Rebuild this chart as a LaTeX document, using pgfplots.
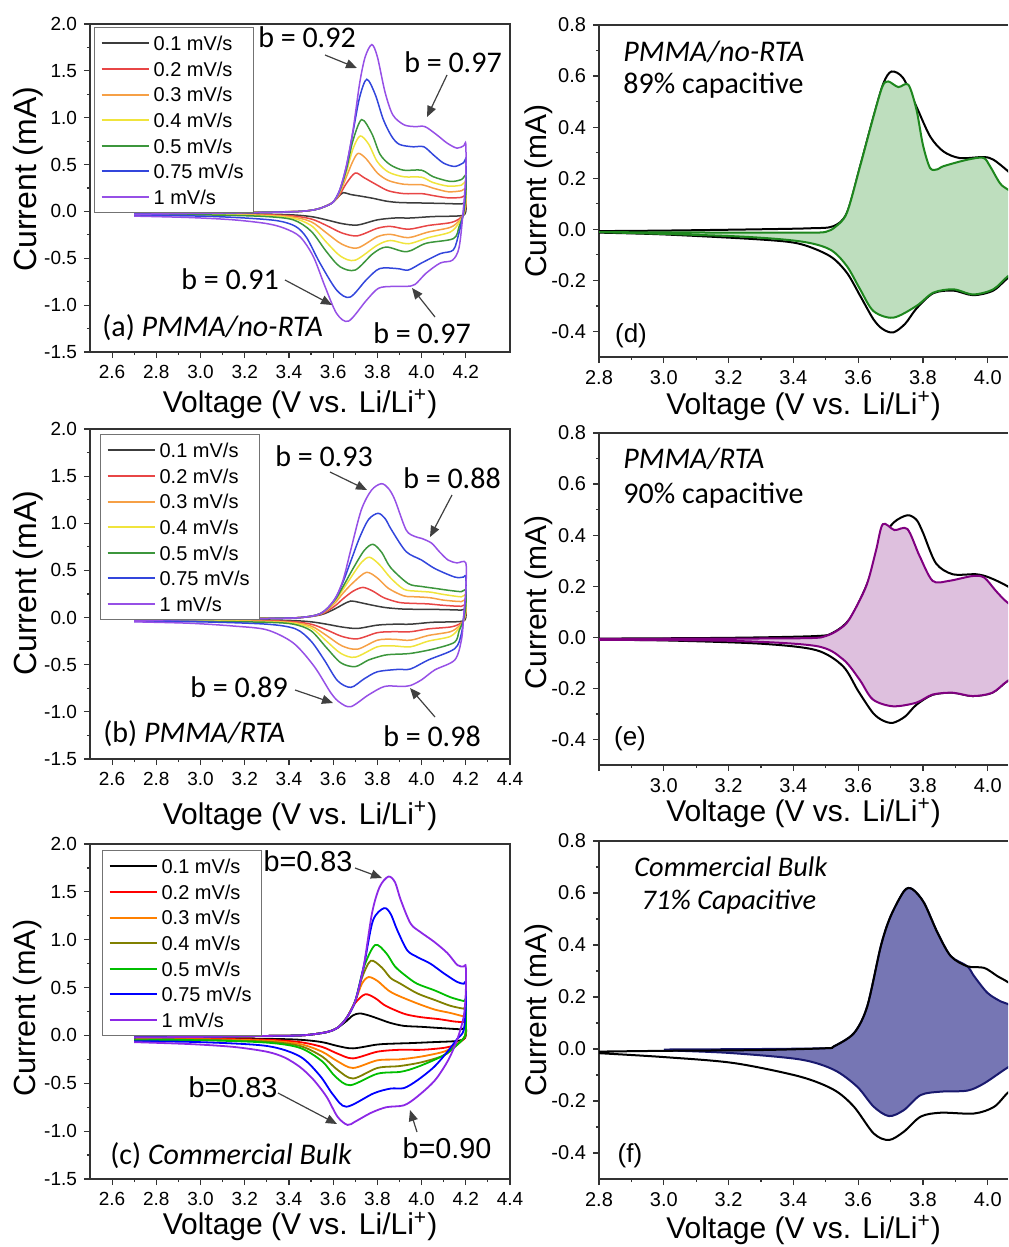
\documentclass[border=0pt]{standalone}
\usepackage{fontspec}
\setmainfont{Liberation Sans}
\newfontfamily\carlito{Carlito}
\usepackage{pgfplots}
\pgfplotsset{compat=1.18}
\usetikzlibrary{arrows.meta}

\definecolor{ca0}{RGB}{60,60,60}
\definecolor{ca1}{RGB}{232,70,70}
\definecolor{ca2}{RGB}{246,160,70}
\definecolor{ca3}{RGB}{240,228,60}
\definecolor{ca4}{RGB}{60,150,60}
\definecolor{ca5}{RGB}{50,70,220}
\definecolor{ca6}{RGB}{150,80,230}
\definecolor{cc0}{RGB}{0,0,0}
\definecolor{cc1}{RGB}{255,0,0}
\definecolor{cc2}{RGB}{255,128,0}
\definecolor{cc3}{RGB}{128,128,0}
\definecolor{cc4}{RGB}{0,190,0}
\definecolor{cc5}{RGB}{0,0,255}
\definecolor{cc6}{RGB}{140,40,230}
\definecolor{dgreen}{RGB}{30,135,30}
\definecolor{lgreen}{RGB}{190,222,190}
\definecolor{dpurple}{RGB}{128,0,128}
\definecolor{lpurple}{RGB}{222,192,222}
\definecolor{dnavy}{RGB}{25,25,110}
\definecolor{lnavy}{RGB}{118,118,180}

\pgfplotsset{
  cvbase/.style={
    scale only axis, anchor=south west,
    tick align=outside, tick pos=left,
    major tick length=3pt, minor tick length=1.6pt,
    minor x tick num=1, minor y tick num=1,
    axis line style={line width=0.7pt, black!80},
    every tick/.style={line width=0.6pt, black!80},
    ticklabel style={/pgf/number format/assume math mode=true},
    xticklabel style={/pgf/number format/.cd,fixed,fixed zerofill,precision=1},
    yticklabel style={/pgf/number format/.cd,fixed,fixed zerofill,precision=1},
    xlabel={Voltage (V vs. Li/Li\textsuperscript{+})},
    ylabel={Current (mA)},
    xlabel style={anchor=center, font=\fontsize{15}{17}\selectfont},
    ylabel style={anchor=center, font=\fontsize{16}{18}\selectfont},
  },
  cvleft/.style={cvbase, width=210pt, xmin=2.5, xmax=4.4, ymin=-1.5, ymax=2.0,
    ytick={-1.5,-1,-0.5,0,0.5,1,1.5,2},
    tick label style={font=\fontsize{9.5}{11}\selectfont},
    legend style={at={(rel axis cs:0,1)}, anchor=north west, xshift=2pt, yshift=-1.5pt,
      draw=black!55, line width=0.6pt, font=\fontsize{10}{12}\selectfont,
      inner xsep=3pt, inner ysep=1.5pt, row sep=0pt,
      nodes={inner ysep=2.75pt, text height=7.3pt, text depth=0pt}},
    legend cell align=left,
    legend image code/.code={\draw[##1, line width=1pt] (0pt,0pt) -- (23.5pt,0pt);},
  },
  cvright/.style={cvbase, width=204.5pt, xmin=2.8, xmax=4.0625, ymin=-0.5, ymax=0.8,
    ytick={-0.4,-0.2,0,0.2,0.4,0.6,0.8}, xtick={2.8,3.0,3.2,3.4,3.6,3.8,4.0},
    axis x line*=box, axis y line*=left, tick pos=left,
    ylabel style={font=\fontsize{15}{17}\selectfont},
    tick label style={font=\fontsize{10}{12}\selectfont},
  },
}

\begin{document}
\begin{tikzpicture}
\useasboundingbox (0,0) rectangle (504pt,-623.5pt);
\clip (0,0) rectangle (504pt,-623.5pt);

% ---------------- (a) ----------------
\begin{axis}[cvleft, at={(45pt,-176pt)}, height=164pt,
  xtick={2.6,2.8,3.0,3.2,3.4,3.6,3.8,4.0,4.2},
  xlabel style={at={(axis description cs:0.5,-0.159)}},
  ylabel style={at={(axis description cs:-0.148,0.527)}}]
\addplot[ca0, line width=0.75pt, smooth, tension=0.5] coordinates {(2.7,-0.015) (3.0,-0.01) (3.3,-0.005) (3.45,0.0) (3.52,0.02) (3.56,0.05) (3.6,0.10) (3.625,0.16) (3.646,0.20) (3.68,0.18) (3.72,0.165) (3.78,0.14) (3.84,0.11) (3.9,0.095) (4.0,0.09) (4.1,0.085) (4.18,0.08) (4.2,0.09) (4.2,0.0) (4.19,-0.04) (4.15,-0.05) (4.05,-0.055) (3.95,-0.07) (3.88,-0.07) (3.8,-0.09) (3.71,-0.145) (3.64,-0.13) (3.57,-0.09) (3.5,-0.055) (3.4,-0.035) (3.2,-0.025) (2.95,-0.02) (2.7,-0.02)};
\addplot[ca1, line width=0.75pt, smooth, tension=0.5] coordinates {(2.7,-0.02) (3.0,-0.012) (3.3,-0.006) (3.45,0.0) (3.52,0.02) (3.56,0.05) (3.6,0.10) (3.63,0.18) (3.66,0.30) (3.70,0.41) (3.74,0.36) (3.80,0.28) (3.85,0.22) (3.92,0.19) (4.0,0.19) (4.05,0.17) (4.12,0.145) (4.18,0.15) (4.2,0.17) (4.2,0.05) (4.19,-0.03) (4.17,-0.08) (4.13,-0.12) (4.03,-0.15) (3.94,-0.19) (3.86,-0.16) (3.80,-0.18) (3.71,-0.26) (3.64,-0.23) (3.57,-0.15) (3.5,-0.08) (3.4,-0.045) (3.2,-0.03) (2.95,-0.025) (2.7,-0.025)};
\addplot[ca2, line width=0.75pt, smooth, tension=0.5] coordinates {(2.7,-0.02) (3.0,-0.013) (3.3,-0.007) (3.45,0.0) (3.52,0.02) (3.56,0.05) (3.6,0.10) (3.63,0.20) (3.66,0.37) (3.69,0.54) (3.714,0.62) (3.75,0.56) (3.80,0.41) (3.85,0.33) (3.92,0.29) (4.0,0.285) (4.05,0.25) (4.12,0.21) (4.18,0.22) (4.2,0.24) (4.2,0.08) (4.19,-0.03) (4.17,-0.1) (4.13,-0.17) (4.03,-0.22) (3.94,-0.28) (3.86,-0.245) (3.80,-0.27) (3.71,-0.39) (3.64,-0.35) (3.57,-0.23) (3.5,-0.11) (3.4,-0.055) (3.2,-0.035) (2.95,-0.03) (2.7,-0.03)};
\addplot[ca3, line width=0.75pt, smooth, tension=0.5] coordinates {(2.7,-0.02) (3.0,-0.014) (3.3,-0.008) (3.45,0.0) (3.52,0.02) (3.56,0.05) (3.6,0.10) (3.63,0.21) (3.66,0.42) (3.69,0.67) (3.722,0.805) (3.76,0.72) (3.80,0.53) (3.85,0.42) (3.92,0.37) (4.0,0.365) (4.05,0.31) (4.12,0.27) (4.18,0.28) (4.2,0.31) (4.2,0.12) (4.19,-0.03) (4.17,-0.12) (4.13,-0.22) (4.03,-0.28) (3.94,-0.345) (3.86,-0.31) (3.80,-0.36) (3.70,-0.52) (3.635,-0.48) (3.57,-0.33) (3.5,-0.15) (3.4,-0.065) (3.2,-0.04) (2.95,-0.033) (2.7,-0.03)};
\addplot[ca4, line width=0.75pt, smooth, tension=0.5] coordinates {(2.7,-0.02) (3.0,-0.015) (3.3,-0.008) (3.45,0.0) (3.52,0.02) (3.56,0.05) (3.6,0.10) (3.63,0.22) (3.66,0.45) (3.69,0.76) (3.729,0.98) (3.775,0.83) (3.812,0.61) (3.857,0.50) (3.918,0.44) (4.0,0.44) (4.053,0.37) (4.13,0.32) (4.18,0.34) (4.2,0.38) (4.2,0.18) (4.19,-0.02) (4.17,-0.16) (4.144,-0.29) (4.02,-0.34) (3.933,-0.43) (3.84,-0.38) (3.78,-0.45) (3.70,-0.625) (3.631,-0.59) (3.57,-0.43) (3.5,-0.21) (3.42,-0.09) (3.3,-0.055) (3.1,-0.04) (2.9,-0.035) (2.7,-0.035)};
\addplot[ca5, line width=0.75pt, smooth, tension=0.5] coordinates {(2.7,-0.025) (3.0,-0.018) (3.3,-0.01) (3.45,0.0) (3.52,0.02) (3.56,0.05) (3.6,0.10) (3.63,0.23) (3.66,0.48) (3.69,0.85) (3.72,1.22) (3.752,1.41) (3.79,1.25) (3.827,0.98) (3.865,0.80) (3.90,0.715) (3.96,0.69) (4.01,0.69) (4.055,0.60) (4.10,0.515) (4.15,0.48) (4.19,0.52) (4.2,0.55) (4.2,0.3) (4.19,0.0) (4.17,-0.22) (4.144,-0.41) (4.085,-0.45) (4.0,-0.55) (3.94,-0.625) (3.89,-0.61) (3.81,-0.61) (3.75,-0.73) (3.676,-0.915) (3.616,-0.84) (3.54,-0.55) (3.48,-0.28) (3.43,-0.16) (3.35,-0.10) (3.2,-0.07) (3.0,-0.05) (2.7,-0.04)};
\addplot[ca6, line width=0.75pt, smooth, tension=0.5] coordinates {(2.7,-0.03) (3.0,-0.02) (3.3,-0.01) (3.45,0.0) (3.52,0.02) (3.56,0.05) (3.6,0.10) (3.63,0.23) (3.66,0.49) (3.69,0.87) (3.72,1.37) (3.745,1.65) (3.775,1.78) (3.80,1.65) (3.835,1.27) (3.87,1.03) (3.92,0.925) (3.97,0.905) (4.015,0.905) (4.07,0.815) (4.115,0.73) (4.16,0.675) (4.19,0.70) (4.2,0.72) (4.2,0.40) (4.19,0.05) (4.17,-0.38) (4.14,-0.52) (4.085,-0.55) (4.02,-0.66) (3.97,-0.78) (3.93,-0.80) (3.87,-0.80) (3.805,-0.82) (3.75,-0.95) (3.67,-1.17) (3.616,-1.09) (3.563,-0.80) (3.51,-0.48) (3.45,-0.27) (3.38,-0.18) (3.3,-0.13) (3.15,-0.09) (2.95,-0.065) (2.7,-0.05)};
\legend{0.1 mV/s, 0.2 mV/s, 0.3 mV/s, 0.4 mV/s, 0.5 mV/s, 0.75 mV/s, 1 mV/s}
\end{axis}

% ---------------- (b) ----------------
\begin{axis}[cvleft, at={(45pt,-379.5pt)}, height=165pt,
  xtick={2.6,2.8,3.0,3.2,3.4,3.6,3.8,4.0,4.2,4.4},
  legend style={xshift=3pt, yshift=-1pt},
  xlabel style={at={(axis description cs:0.5,-0.173)}},
  ylabel style={at={(axis description cs:-0.148,0.533)}}]
\addplot[ca0, line width=0.75pt, smooth, tension=0.5] coordinates {(2.7,-0.015) (3.0,-0.01) (3.3,-0.005) (3.45,0.0) (3.545,0.03) (3.606,0.09) (3.645,0.14) (3.68,0.176) (3.72,0.16) (3.78,0.13) (3.84,0.105) (3.92,0.09) (4.0,0.088) (4.1,0.085) (4.18,0.08) (4.2,0.09) (4.2,0.0) (4.19,-0.035) (4.15,-0.045) (4.05,-0.05) (3.95,-0.07) (3.88,-0.07) (3.8,-0.08) (3.71,-0.115) (3.64,-0.10) (3.57,-0.07) (3.5,-0.045) (3.4,-0.03) (3.2,-0.022) (2.95,-0.02) (2.7,-0.02)};
\addplot[ca1, line width=0.75pt, smooth, tension=0.5] coordinates {(2.7,-0.02) (3.0,-0.012) (3.3,-0.006) (3.45,0.0) (3.545,0.035) (3.606,0.12) (3.645,0.20) (3.69,0.28) (3.735,0.32) (3.78,0.28) (3.83,0.21) (3.9,0.16) (3.97,0.15) (4.03,0.145) (4.1,0.13) (4.18,0.12) (4.2,0.14) (4.2,0.04) (4.19,-0.03) (4.17,-0.07) (4.13,-0.10) (4.03,-0.12) (3.95,-0.15) (3.87,-0.15) (3.80,-0.16) (3.71,-0.225) (3.64,-0.20) (3.57,-0.13) (3.5,-0.07) (3.4,-0.04) (3.2,-0.03) (2.95,-0.025) (2.7,-0.025)};
\addplot[ca2, line width=0.75pt, smooth, tension=0.5] coordinates {(2.7,-0.02) (3.0,-0.013) (3.3,-0.007) (3.45,0.0) (3.545,0.04) (3.606,0.15) (3.645,0.26) (3.69,0.37) (3.75,0.48) (3.80,0.42) (3.85,0.31) (3.92,0.23) (3.98,0.22) (4.04,0.21) (4.1,0.185) (4.18,0.17) (4.2,0.19) (4.2,0.06) (4.19,-0.03) (4.17,-0.09) (4.13,-0.15) (4.03,-0.19) (3.95,-0.24) (3.87,-0.23) (3.80,-0.24) (3.71,-0.335) (3.64,-0.30) (3.57,-0.19) (3.5,-0.09) (3.4,-0.05) (3.2,-0.035) (2.95,-0.03) (2.7,-0.03)};
\addplot[ca3, line width=0.75pt, smooth, tension=0.5] coordinates {(2.7,-0.02) (3.0,-0.014) (3.3,-0.008) (3.45,0.0) (3.545,0.045) (3.606,0.17) (3.645,0.30) (3.69,0.46) (3.73,0.59) (3.765,0.64) (3.81,0.56) (3.86,0.42) (3.92,0.30) (3.98,0.28) (4.04,0.27) (4.1,0.245) (4.18,0.22) (4.2,0.24) (4.2,0.08) (4.19,-0.03) (4.17,-0.11) (4.13,-0.20) (4.03,-0.25) (3.95,-0.31) (3.87,-0.30) (3.80,-0.31) (3.70,-0.42) (3.635,-0.38) (3.57,-0.25) (3.5,-0.11) (3.4,-0.055) (3.2,-0.04) (2.95,-0.033) (2.7,-0.03)};
\addplot[ca4, line width=0.75pt, smooth, tension=0.5] coordinates {(2.7,-0.02) (3.0,-0.015) (3.3,-0.008) (3.45,0.0) (3.545,0.045) (3.606,0.18) (3.645,0.33) (3.69,0.52) (3.74,0.71) (3.78,0.777) (3.82,0.69) (3.86,0.53) (3.94,0.36) (4.0,0.33) (4.06,0.31) (4.12,0.29) (4.18,0.275) (4.2,0.29) (4.2,0.12) (4.19,-0.02) (4.17,-0.14) (4.15,-0.26) (4.06,-0.33) (3.95,-0.38) (3.87,-0.39) (3.83,-0.40) (3.76,-0.45) (3.70,-0.52) (3.635,-0.48) (3.57,-0.32) (3.5,-0.14) (3.42,-0.07) (3.3,-0.05) (3.0,-0.04) (2.7,-0.035)};
\addplot[ca5, line width=0.75pt, smooth, tension=0.5] coordinates {(2.7,-0.025) (3.0,-0.018) (3.3,-0.01) (3.45,0.0) (3.545,0.045) (3.606,0.19) (3.645,0.38) (3.68,0.60) (3.72,0.85) (3.76,1.04) (3.803,1.106) (3.835,1.05) (3.864,0.93) (3.93,0.70) (4.0,0.61) (4.06,0.52) (4.15,0.43) (4.19,0.43) (4.2,0.44) (4.2,0.25) (4.19,0.0) (4.18,-0.17) (4.15,-0.33) (4.03,-0.45) (3.95,-0.545) (3.89,-0.55) (3.80,-0.575) (3.74,-0.65) (3.68,-0.74) (3.62,-0.67) (3.56,-0.45) (3.5,-0.25) (3.43,-0.12) (3.3,-0.07) (3.0,-0.045) (2.7,-0.04)};
\addplot[ca6, line width=0.75pt, smooth, tension=0.5] coordinates {(2.7,-0.03) (3.0,-0.02) (3.3,-0.01) (3.45,0.0) (3.545,0.045) (3.606,0.19) (3.645,0.40) (3.68,0.72) (3.727,1.14) (3.773,1.35) (3.818,1.42) (3.85,1.37) (3.879,1.25) (3.93,0.93) (3.97,0.86) (4.0,0.84) (4.045,0.79) (4.08,0.70) (4.12,0.61) (4.16,0.58) (4.2,0.58) (4.2,0.3) (4.19,0.0) (4.18,-0.24) (4.15,-0.45) (4.06,-0.555) (4.0,-0.66) (3.95,-0.72) (3.909,-0.73) (3.833,-0.73) (3.76,-0.82) (3.68,-0.945) (3.63,-0.90) (3.59,-0.80) (3.515,-0.52) (3.42,-0.27) (3.30,-0.13) (3.15,-0.09) (2.95,-0.06) (2.7,-0.045)};
\legend{0.1 mV/s, 0.2 mV/s, 0.3 mV/s, 0.4 mV/s, 0.5 mV/s, 0.75 mV/s, 1 mV/s}
\end{axis}

% ---------------- (c) ----------------
\begin{axis}[cvleft, at={(45pt,-589.5pt)}, height=167.5pt,
  xtick={2.6,2.8,3.0,3.2,3.4,3.6,3.8,4.0,4.2,4.4},
  legend style={xshift=4pt, yshift=-1.5pt},
  xlabel style={at={(axis description cs:0.5,-0.142)}},
  ylabel style={at={(axis description cs:-0.148,0.51)}, font=\fontsize{15.3}{17}\selectfont}]
\addplot[cc0, line width=0.9pt, smooth, tension=0.5] coordinates {(2.7,-0.02) (3.0,-0.015) (3.3,-0.005) (3.45,0.0) (3.52,0.015) (3.58,0.04) (3.62,0.08) (3.66,0.15) (3.69,0.21) (3.72,0.23) (3.76,0.21) (3.81,0.17) (3.86,0.13) (3.92,0.10) (4.0,0.09) (4.1,0.075) (4.18,0.065) (4.2,0.08) (4.2,0.0) (4.19,-0.04) (4.15,-0.06) (4.05,-0.07) (3.95,-0.08) (3.88,-0.085) (3.8,-0.095) (3.69,-0.135) (3.62,-0.11) (3.55,-0.07) (3.45,-0.045) (3.3,-0.035) (3.0,-0.03) (2.7,-0.03)};
\addplot[cc1, line width=0.9pt, smooth, tension=0.5] coordinates {(2.7,-0.02) (3.0,-0.015) (3.3,-0.005) (3.45,0.0) (3.52,0.015) (3.58,0.04) (3.62,0.08) (3.66,0.18) (3.70,0.34) (3.745,0.43) (3.79,0.39) (3.83,0.32) (3.874,0.27) (3.93,0.22) (4.0,0.19) (4.08,0.17) (4.15,0.145) (4.19,0.14) (4.2,0.15) (4.2,0.02) (4.19,-0.04) (4.15,-0.10) (4.1,-0.13) (4.0,-0.15) (3.9,-0.15) (3.8,-0.17) (3.69,-0.24) (3.62,-0.19) (3.55,-0.12) (3.45,-0.07) (3.3,-0.045) (3.0,-0.035) (2.7,-0.035)};
\addplot[cc2, line width=0.9pt, smooth, tension=0.5] coordinates {(2.7,-0.02) (3.0,-0.015) (3.3,-0.005) (3.45,0.0) (3.52,0.015) (3.58,0.04) (3.62,0.08) (3.66,0.18) (3.70,0.36) (3.73,0.54) (3.76,0.61) (3.80,0.57) (3.85,0.47) (3.89,0.42) (3.98,0.335) (4.06,0.27) (4.13,0.235) (4.19,0.20) (4.2,0.21) (4.2,0.03) (4.19,-0.03) (4.15,-0.11) (4.1,-0.17) (4.0,-0.22) (3.9,-0.25) (3.8,-0.26) (3.69,-0.34) (3.62,-0.27) (3.55,-0.17) (3.45,-0.09) (3.3,-0.055) (3.0,-0.04) (2.7,-0.04)};
\addplot[cc3, line width=0.9pt, smooth, tension=0.5] coordinates {(2.7,-0.02) (3.0,-0.015) (3.3,-0.005) (3.45,0.0) (3.52,0.015) (3.58,0.04) (3.62,0.08) (3.66,0.18) (3.70,0.36) (3.73,0.60) (3.77,0.78) (3.82,0.71) (3.86,0.60) (3.905,0.54) (3.98,0.44) (4.06,0.37) (4.13,0.31) (4.19,0.28) (4.2,0.29) (4.2,0.04) (4.19,-0.03) (4.15,-0.12) (4.1,-0.21) (4.0,-0.28) (3.9,-0.32) (3.8,-0.34) (3.69,-0.45) (3.62,-0.36) (3.55,-0.22) (3.45,-0.11) (3.3,-0.065) (3.0,-0.045) (2.7,-0.045)};
\addplot[cc4, line width=0.9pt, smooth, tension=0.5] coordinates {(2.7,-0.02) (3.0,-0.015) (3.3,-0.005) (3.45,0.0) (3.52,0.015) (3.58,0.04) (3.62,0.08) (3.66,0.18) (3.70,0.36) (3.74,0.72) (3.79,0.945) (3.84,0.86) (3.88,0.72) (3.93,0.62) (3.98,0.54) (4.06,0.47) (4.13,0.40) (4.19,0.36) (4.2,0.37) (4.2,0.05) (4.19,-0.03) (4.15,-0.12) (4.09,-0.22) (3.98,-0.33) (3.905,-0.38) (3.80,-0.40) (3.677,-0.52) (3.61,-0.43) (3.55,-0.27) (3.45,-0.13) (3.3,-0.075) (3.0,-0.05) (2.7,-0.05)};
\addplot[cc5, line width=0.9pt, smooth, tension=0.5] coordinates {(2.7,-0.02) (3.0,-0.015) (3.3,-0.005) (3.45,0.0) (3.52,0.015) (3.58,0.04) (3.62,0.08) (3.66,0.18) (3.70,0.36) (3.74,0.74) (3.78,1.20) (3.83,1.33) (3.86,1.27) (3.89,1.10) (3.935,0.89) (3.98,0.82) (4.04,0.75) (4.10,0.65) (4.16,0.56) (4.19,0.54) (4.2,0.55) (4.2,0.3) (4.19,0.05) (4.16,-0.04) (4.117,-0.17) (4.056,-0.33) (3.98,-0.47) (3.92,-0.55) (3.86,-0.555) (3.783,-0.605) (3.66,-0.745) (3.60,-0.62) (3.54,-0.42) (3.45,-0.22) (3.3,-0.11) (3.0,-0.07) (2.7,-0.06)};
\addplot[cc6, line width=0.9pt, smooth, tension=0.5] coordinates {(2.7,-0.02) (3.0,-0.015) (3.3,-0.005) (3.45,0.0) (3.52,0.015) (3.58,0.04) (3.62,0.08) (3.66,0.18) (3.70,0.36) (3.738,0.72) (3.776,1.28) (3.81,1.55) (3.85,1.66) (3.88,1.60) (3.905,1.42) (3.95,1.17) (3.995,1.08) (4.056,0.98) (4.117,0.86) (4.162,0.735) (4.19,0.72) (4.2,0.72) (4.2,0.45) (4.19,0.19) (4.16,-0.05) (4.12,-0.26) (4.06,-0.47) (3.98,-0.64) (3.92,-0.73) (3.84,-0.75) (3.77,-0.81) (3.70,-0.90) (3.665,-0.935) (3.62,-0.85) (3.57,-0.64) (3.51,-0.46) (3.45,-0.33) (3.38,-0.23) (3.3,-0.17) (3.15,-0.12) (2.95,-0.09) (2.7,-0.07)};
\legend{0.1 mV/s, 0.2 mV/s, 0.3 mV/s, 0.4 mV/s, 0.5 mV/s, 0.75 mV/s, 1 mV/s}
\end{axis}

% ---------------- (d) ----------------
\begin{axis}[cvright, at={(299.5pt,-178.5pt)}, height=166pt,
  xlabel style={at={(axis description cs:0.5,-0.148)}},
  ylabel style={at={(axis description cs:-0.147,0.5)}}]
\addplot[black, line width=1pt, smooth, tension=0.5] coordinates {(2.8,-0.007) (3.0,-0.005) (3.29,0.0) (3.45,0.004) (3.523,0.012) (3.565,0.064) (3.606,0.247) (3.647,0.44) (3.678,0.572) (3.703,0.618) (3.739,0.592) (3.78,0.48) (3.822,0.364) (3.863,0.305) (3.914,0.279) (3.986,0.283) (4.017,0.273) (4.063,0.227) (4.12,0.16) (4.2,0.12) (4.2,-0.05) (4.12,-0.15) (4.063,-0.19) (4.017,-0.24) (3.955,-0.258) (3.894,-0.24) (3.832,-0.25) (3.78,-0.31) (3.745,-0.37) (3.708,-0.404) (3.675,-0.39) (3.647,-0.352) (3.606,-0.26) (3.565,-0.17) (3.513,-0.105) (3.42,-0.057) (3.3,-0.04) (3.0,-0.02) (2.8,-0.013)};
\addplot[draw=dgreen, fill=lgreen, line width=1pt, smooth, tension=0.5] coordinates {(2.8,-0.011) (3.0,-0.012) (3.3,-0.013) (3.45,-0.013) (3.50,-0.01) (3.53,0.01) (3.565,0.064) (3.606,0.247) (3.647,0.44) (3.675,0.56) (3.693,0.579) (3.724,0.557) (3.755,0.566) (3.78,0.468) (3.80,0.33) (3.822,0.24) (3.845,0.235) (3.863,0.247) (3.935,0.272) (3.986,0.28) (4.007,0.247) (4.038,0.18) (4.063,0.155) (4.12,0.11) (4.2,0.08) (4.2,-0.08) (4.12,-0.14) (4.063,-0.183) (4.017,-0.235) (3.955,-0.255) (3.894,-0.235) (3.832,-0.248) (3.78,-0.30) (3.708,-0.346) (3.647,-0.32) (3.606,-0.235) (3.565,-0.144) (3.513,-0.079) (3.42,-0.047) (3.215,-0.027) (2.8,-0.011)};
\end{axis}

% ---------------- (e) ----------------
\begin{axis}[cvright, at={(299.5pt,-382.5pt)}, height=166pt,
  xticklabels={,3.0,3.2,3.4,3.6,3.8,4.0},
  xlabel style={at={(axis description cs:0.5,-0.145)}},
  ylabel style={at={(axis description cs:-0.147,0.49)}}]
\addplot[black, line width=1pt, smooth, tension=0.5] coordinates {(2.8,-0.005) (3.2,-0.002) (3.47,0.005) (3.522,0.018) (3.573,0.071) (3.625,0.201) (3.676,0.384) (3.71,0.45) (3.752,0.478) (3.78,0.46) (3.80,0.41) (3.84,0.29) (3.892,0.247) (3.964,0.247) (4.005,0.234) (4.061,0.20) (4.12,0.15) (4.2,0.11) (4.2,-0.06) (4.12,-0.13) (4.061,-0.171) (4.014,-0.217) (3.953,-0.23) (3.892,-0.217) (3.83,-0.225) (3.779,-0.265) (3.745,-0.31) (3.707,-0.335) (3.675,-0.325) (3.645,-0.295) (3.60,-0.21) (3.553,-0.113) (3.47,-0.05) (3.3,-0.025) (3.0,-0.012) (2.8,-0.01)};
\addplot[draw=dpurple, fill=lpurple, line width=1pt, smooth, tension=0.5] coordinates {(2.8,-0.006) (3.2,-0.005) (3.45,-0.003) (3.5,0.005) (3.54,0.03) (3.573,0.071) (3.625,0.201) (3.655,0.34) (3.676,0.443) (3.712,0.42) (3.752,0.424) (3.789,0.32) (3.83,0.221) (3.88,0.221) (3.953,0.24) (3.989,0.234) (4.025,0.182) (4.061,0.136) (4.12,0.09) (4.2,0.06) (4.2,-0.08) (4.12,-0.13) (4.061,-0.171) (4.014,-0.217) (3.953,-0.23) (3.892,-0.217) (3.83,-0.224) (3.779,-0.256) (3.707,-0.27) (3.645,-0.243) (3.604,-0.165) (3.553,-0.086) (3.47,-0.034) (3.214,-0.014) (2.8,-0.01)};
\end{axis}

% ---------------- (f) ----------------
\begin{axis}[cvright, at={(299.5pt,-589.5pt)}, height=169pt,
  xlabel style={at={(axis description cs:0.5,-0.151)}},
  ylabel style={at={(axis description cs:-0.147,0.5)}}]
\addplot[draw=dnavy, fill=lnavy, line width=1pt, smooth, tension=0.5] coordinates {(3.0,-0.002) (3.3,0.0) (3.5,0.003) (3.525,0.01) (3.587,0.061) (3.628,0.164) (3.67,0.396) (3.70,0.51) (3.742,0.608) (3.767,0.615) (3.803,0.563) (3.845,0.447) (3.886,0.357) (3.937,0.318) (3.958,0.28) (3.999,0.216) (4.04,0.183) (4.066,0.17) (4.12,0.12) (4.2,0.08) (4.2,-0.02) (4.12,-0.04) (4.066,-0.068) (3.989,-0.132) (3.937,-0.16) (3.855,-0.164) (3.793,-0.177) (3.741,-0.235) (3.695,-0.258) (3.648,-0.222) (3.597,-0.145) (3.525,-0.08) (3.42,-0.04) (3.2,-0.015) (3.0,-0.005)};
\addplot[black, line width=1pt, smooth, tension=0.5] coordinates {(2.8,-0.01) (3.0,-0.007) (3.3,-0.004) (3.5,0.003) (3.525,0.01) (3.587,0.061) (3.628,0.164) (3.67,0.396) (3.70,0.51) (3.742,0.608) (3.767,0.615) (3.803,0.563) (3.845,0.447) (3.886,0.357) (3.937,0.318) (3.989,0.312) (4.03,0.28) (4.066,0.254) (4.12,0.2) (4.2,0.15) (4.2,-0.1) (4.12,-0.13) (4.066,-0.164) (4.02,-0.222) (3.958,-0.248) (3.855,-0.245) (3.793,-0.26) (3.741,-0.318) (3.695,-0.35) (3.648,-0.325) (3.587,-0.222) (3.525,-0.157) (3.42,-0.106) (3.216,-0.054) (3.0,-0.031) (2.8,-0.016)};
\end{axis}

% ---------------- annotations (pixel units) ----------------
\begin{scope}[x=0.5pt, y=-0.5pt, every node/.style={inner sep=0pt},
  arr/.style={black!75, line width=0.6pt, -{Triangle[length=5.5pt,width=4.5pt]}}]
\newcommand\ann{\carlito\fontsize{15}{18}\selectfont}
% (a)
\node at (307,37) {\ann b = 0.92}; \draw[arr] (325,55) -- (357,68);
\node at (453,62) {\ann b = 0.97}; \draw[arr] (447,75) -- (427,117);
\node at (230,279) {\ann b = 0.91}; \draw[arr] (285,280) -- (332,305);
\node at (422,333) {\ann b = 0.97}; \draw[arr] (435,317) -- (412,288);
\node[anchor=west] at (102,328) {\ann (a) \textit{PMMA/no-RTA}};
% (b)
\node at (324,456) {\ann b = 0.93}; \draw[arr] (330,472) -- (367,490);
\node at (452,478) {\ann b = 0.88}; \draw[arr] (452,495) -- (430,537);
\node at (239,687) {\ann b = 0.89}; \draw[arr] (295,690) -- (333,703);
\node at (432,736) {\ann b = 0.98}; \draw[arr] (435,717) -- (410,688);
\node[anchor=west] at (103,734) {\ann (b) \textit{PMMA/RTA}};
% (c)
\node at (308,861) {\fontsize{14.4}{17}\selectfont b=0.83}; \draw[arr] (355,868) -- (382,878);
\node at (233,1087) {\fontsize{14.4}{17}\selectfont b=0.83}; \draw[arr] (278,1093) -- (337,1124);
\node at (447,1148) {\fontsize{14.4}{17}\selectfont b=0.90}; \draw[arr] (417,1132) -- (410,1110);
\node[anchor=west] at (110,1156) {\ann (c) \textit{Commercial Bulk}};
% (d)
\node[anchor=west] at (623,52) {\ann\textit{PMMA/no-RTA}};
\node[anchor=west] at (623,86) {\ann 89\% capacitive};
\node at (631,336) {\fontsize{13}{15}\selectfont (d)};
% (e)
\node[anchor=west] at (623,459) {\ann\textit{PMMA/RTA}};
\node[anchor=west] at (623,496) {\ann 90\% capacitive};
\node at (630,739) {\fontsize{13}{15}\selectfont (e)};
% (f)
\node at (731,867) {\carlito\fontsize{14.2}{17}\selectfont\textit{Commercial Bulk}};
\node at (729,902) {\carlito\fontsize{14.2}{17}\selectfont\textit{71\% Capacitive}};
\node at (630,1156) {\fontsize{13}{15}\selectfont (f)};
\end{scope}
\end{tikzpicture}
\end{document}
